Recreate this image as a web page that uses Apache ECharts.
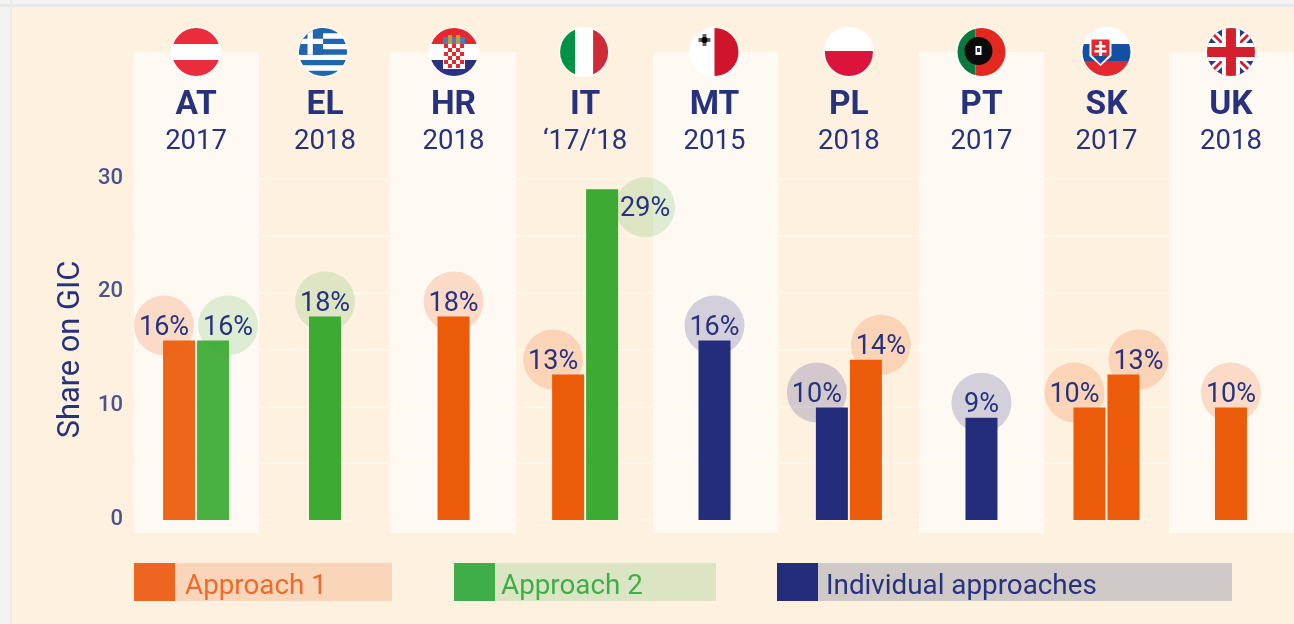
<!DOCTYPE html>
<html>
<head>
<meta charset="utf-8">
<style>html,body{margin:0;padding:0;background:#fff1e0}#c{width:1294px;height:624px}</style>
<script src="https://cdn.jsdelivr.net/npm/echarts@6/dist/echarts.min.js"></script>
</head>
<body>
<div id="c"></div>
<script>
// ---------- data ----------
const categories = ['AT','EL','HR','IT','MT','PL','PT','SK','UK'];
const years = ['2017','2018','2018','\u201817/\u201818','2015','2018','2017','2017','2018'];
const individual = [null,null,null,null,15.8,9.9,9,null,null];
const approach1  = [15.8,null,17.9,12.8,null,14.1,null,9.9,9.9];
const approach1b = [null,null,null,null,null,null,null,12.8,null];
const approach2  = [15.8,17.9,null,29.1,null,null,null,null,null];
const yTicks = [0,10,20,30];
const legendNames = ['Approach 1','Approach 2','Individual approaches'];

// ---------- layout / style ----------
const NAVY='#27327f', ORANGE='#ec5b0a', GREEN='#3caa33', BLUE='#242d7c';
const FONT='Roboto';
const columnNudge=[-2.4,-2.3,-2.7,0,0.5,6,9.7,5.8,1.4];
const flagNudge=[0,-2,0.5,-1,0,0,0,0,0];
const bandColumns=[[134,259],[390,516],[653,778],[919,1044],[1169,1294]];
const seriesDefs=[
 {name:legendNames[2],values:individual,color:BLUE,tint:'rgba(36,45,124,0.2)'},
 {name:legendNames[0],values:approach1,color:ORANGE,tint:'rgba(236,91,10,0.19)'},
 {name:legendNames[0]+' (second)',values:approach1b,color:ORANGE,tint:'rgba(236,91,10,0.19)'},
 {name:legendNames[1],values:approach2,color:GREEN,tint:'rgba(60,170,51,0.17)'}
];
function slotOf(def,col){
  const present=seriesDefs.filter(d=>d.values[col]!=null);
  if(present.length<2) return 0;
  return present[0]===def?-1:1;
}
function barSeries(def){
  return {
    type:'custom',name:def.name,coordinateSystem:'cartesian2d',clip:false,
    data:def.values.map((v,i)=>[i,v]).filter(d=>d[1]!=null),
    encode:{x:0,y:1},
    renderItem(params,api){
      const col=api.value(0),val=api.value(1);
      const top=api.coord([col,val]),base=api.coord([col,0]);
      const cx=top[0]+columnNudge[col],slot=slotOf(def,col);
      const w=32;
      const left=slot===0?cx-16:(slot<0?cx-33:cx+1);
      const right=left+w;
      let lx=slot===0?cx:(slot<0?left+1:right-1),ly=top[1]-15;
      if(val>25){lx=right+27;ly=top[1]+18;}
      return {type:'group',children:[
        {type:'circle',shape:{cx:lx,cy:ly,r:30},style:{fill:def.tint}},
        {type:'rect',shape:{x:left,y:top[1],width:w,height:base[1]-top[1]},
          style:{fill:def.color,opacity:col===0?0.93:1}},
        {type:'text',x:lx,y:ly+2.5,style:{text:Math.round(val)+'%',fill:NAVY,font:'400 27px '+FONT,align:'center',verticalAlign:'middle'}}
      ]};
    }
  };
}
// flag drawing helpers (local coords, centre 0,0)
const R=(x,y,w,h,f)=>({type:'rect',shape:{x,y,width:w,height:h},style:{fill:f}});
const C=(x,y,r,f)=>({type:'circle',shape:{cx:x,cy:y,r},style:{fill:f}});
const P=(pts,f)=>({type:'polygon',shape:{points:pts},style:{fill:f}});
const flags={
 AT:()=>[R(-26,-26,52,18,'#ea2c3d'),R(-26,-8,52,16,'#fff'),R(-26,8,52,18,'#ea2c3d')],
 EL:()=>{const b='#1f66ae',o=[R(-26,-26,52,52,'#fff')],s=48/9;
   for(let i=0;i<9;i+=2)o.push(R(-26,-24+i*s,52,s,b));
   o.push(R(-26,-24,26,s*5,b),R(-15.5,-24,5.3,s*5,'#fff'),R(-26,-24+s*2,26,s,'#fff'));
   return o;},
 HR:()=>{const o=[R(-26,-26,52,18,'#e5282d'),R(-26,-8,52,16,'#fff'),R(-26,8,52,18,'#2c3184'),
   R(-11,-8,22,25,'#fff')];
   for(let r=0;r<6;r++)for(let c=0;c<5;c++)if((r+c)%2===0)o.push(R(-10+c*4,-8+r*4,4,4,'#e5282d'));
   o.push(R(-11,-15,22,7,'#4a7fb5'),R(-6,-17,4,9,'#c99a3a'),R(2,-17,4,9,'#c99a3a'));
   return o;},
 IT:()=>[R(-26,-26,17,52,'#009246'),R(-9,-26,18,52,'#fff'),R(9,-26,17,52,'#ce2b37')],
 MT:()=>[R(-26,-26,26,52,'#fff'),R(0,-26,26,52,'#cf142b'),R(-16,-14,12,4,'#6a5f66'),R(-12,-18,4,12,'#6a5f66'),C(-10,-12,3,'#000')],
 PL:()=>[R(-26,-26,52,26,'#fff'),R(-26,-1,52,27,'#dc143c')],
 PT:()=>[R(-26,-26,20,52,'#0a7a3c'),R(-6,-26,32,52,'#e5281f'),C(-3,-1,14,'#0b0b0b'),R(-6,-6,6,9,'#fff'),R(-4.5,-4,3,4,'#27327f')],
 SK:()=>[R(-26,-26,52,18,'#fff'),R(-26,-8,52,17,'#1150a4'),R(-26,9,52,17,'#e5282d'),
   P([[-17,-14],[5,-14],[5,4],[-6,14],[-17,4]],'#fff'),P([[-15,-12.5],[3,-12.5],[3,3],[-6,12],[-15,3]],'#e5282d'),
   R(-7.5,-11,3,15,'#fff'),R(-11,-7,10,2.5,'#fff'),R(-12,-2,12,2.5,'#fff'),P([[-13,4],[1,4],[-6,11]],'#1150a4')],
 UK:()=>{const w='#fff',r='#d3202f',o=[R(-26,-26,52,52,'#2b3a80')];
   o.push(P([[-26,-20],[-20,-26],[26,20],[20,26]],w),P([[26,-20],[20,-26],[-26,20],[-20,26]],w));
   o.push(P([[-26,-24],[-24,-26],[26,24],[24,26]],r),P([[26,-24],[24,-26],[-26,24],[-24,26]],r));
   o.push(R(-9,-26,18,52,w),R(-26,-9,52,18,w),R(-5,-26,10,52,r),R(-26,-5,52,10,r));
   return o;}
};
const headerSeries={
  type:'custom',name:'Countries',coordinateSystem:'cartesian2d',clip:false,silent:true,
  data:categories.map((c,i)=>[i,0]),encode:{x:0,y:1},
  renderItem(params,api){
    const col=api.value(0),x=api.coord([col,0])[0]+columnNudge[col],fx=x+flagNudge[col];
    return {type:'group',children:[
      {type:'circle',shape:{cx:fx,cy:52,r:25.5},style:{fill:'#fff',opacity:0.75}},
      {type:'group',x:fx,y:52,clipPath:{type:'circle',shape:{cx:0,cy:0,r:24}},children:flags[categories[col]]()},
      {type:'text',x:x,y:106,style:{text:categories[col],fill:NAVY,font:'700 33.5px '+FONT,align:'center',verticalAlign:'middle'}},
      {type:'text',x:x,y:142,style:{text:years[col],fill:NAVY,font:'400 27.5px '+FONT,align:'center',verticalAlign:'middle'}}
    ]};
  }
};
const rect=(x,y,w,h,f,z)=>({type:'rect',z:z,silent:true,shape:{x,y,width:w,height:h},style:{fill:f}});
const legendItems=[
 {x:134,sw:41,end:392,c:'#ee6522',band:'#f9d6b9',tc:'#ee6a2a',tx:185,name:legendNames[0]},
 {x:454,sw:41,end:716,c:'#3fae49',band:'#dbe5c4',tc:'#3fae49',tx:501,name:legendNames[1]},
 {x:777,sw:41,end:1232,c:BLUE,band:'#cfcac8',tc:NAVY,tx:826,name:legendNames[2]}
];
const graphics=[
 rect(0,0,1294,7,'#f3f3f3',-20),rect(0,4,1294,3,'#e9e9e9',-19),
 rect(0,0,10,624,'#f3f3f3',-20),rect(10,0,2,624,'#ebebed',-19)
];
bandColumns.forEach(b=>graphics.push(rect(b[0],52,b[1]-b[0],481,'#fff9f3',-10)));
legendItems.forEach(l=>{
  graphics.push(rect(l.x,563,l.end-l.x,38,l.band,5),rect(l.x,563,l.sw,38,l.c,6));
  graphics.push({type:'text',z:7,x:l.tx,y:587,silent:true,style:{text:l.name,fill:l.tc,font:'400 27.8px '+FONT,verticalAlign:'middle'}});
});

const chart=echarts.init(document.getElementById('c'),null,{renderer:'canvas'});
chart.setOption({
  animation:false,
  backgroundColor:'#fff1e0',
  grid:{left:134,right:0,top:179,bottom:104,containLabel:false},
  xAxis:{type:'category',data:categories,axisLine:{show:false},axisTick:{show:false},axisLabel:{show:false},splitLine:{show:false}},
  yAxis:{type:'value',min:0,max:30,interval:5,
    name:'Share on GIC',nameLocation:'middle',nameGap:46,nameRotate:90,
    nameTextStyle:{color:NAVY,fontFamily:FONT,fontSize:30.8},
    axisLine:{show:false},axisTick:{show:false},
    axisLabel:{color:'#4b5290',fontFamily:FONT,fontSize:22,fontWeight:500,margin:11,verticalAlign:'bottom',lineHeight:2,
      formatter:v=>yTicks.includes(v)?String(v):''},
    splitLine:{show:true,lineStyle:{color:'#fff7ee',width:1.5}}},
  graphic:graphics,
  series:[...seriesDefs.map(barSeries),headerSeries]
});
</script>
</body>
</html>
